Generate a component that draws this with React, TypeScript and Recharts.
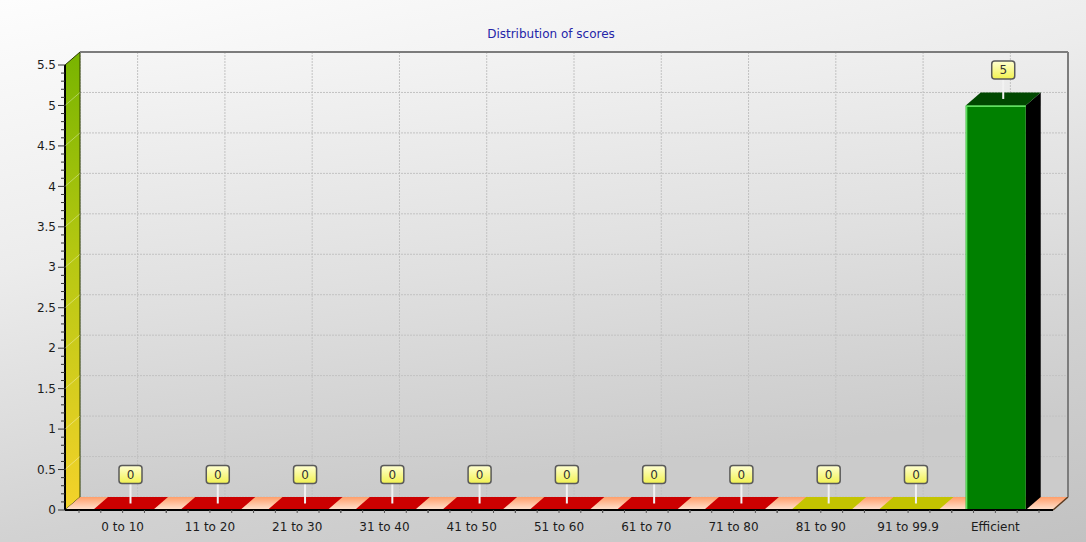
import React from "react";
import * as Recharts from "recharts";

const {BarChart, Bar, XAxis, YAxis, CartesianGrid, Cell, LabelList} = Recharts;
const anyRecharts = Recharts as any;

// chart values
const categories = [
  "0 to 10", "11 to 20", "21 to 30", "31 to 40", "41 to 50", "51 to 60",
  "61 to 70", "71 to 80", "81 to 90", "91 to 99.9", "Efficient",
];
const counts = [0, 0, 0, 0, 0, 0, 0, 0, 0, 0, 5];
const yTicks = [0, 0.5, 1, 1.5, 2, 2.5, 3, 3.5, 4, 4.5, 5, 5.5];

// styles
const barColors = [
  "#cc0000", "#cc0000", "#cc0000", "#cc0000", "#cc0000", "#cc0000",
  "#cc0000", "#cc0000", "#c4c400", "#c4c400", "#008000",
];
const topColors = [
  "#cc0000", "#cc0000", "#cc0000", "#cc0000", "#cc0000", "#cc0000",
  "#cc0000", "#cc0000", "#c4c400", "#c4c400", "#004800",
];

const data = categories.map((name, i) => ({name, count: counts[i]}));

// minor ticks: five steps inside every labelled interval
const yMinorTicks = yTicks.flatMap((t, i) =>
  i === 0 ? [t] : [1, 2, 3, 4, 5].map(k => Math.round((yTicks[i - 1] + ((t - yTicks[i - 1]) * k) / 5) * 100) / 100)
);

const W = 1086;
const H = 542;
const MARGIN = {top: 65, right: 33, bottom: 0, left: 0};
const Y_AXIS_W = 65;
const X_AXIS_H = 32;
const X_PAD = 14;
const DX = 15;
const DY = -13;
const PLOT_W = W - MARGIN.left - Y_AXIS_W - MARGIN.right;
const PLOT_H = H - MARGIN.top - X_AXIS_H - MARGIN.bottom;
const BAND = (PLOT_W - 2 * X_PAD) / categories.length;
const FONT = "'DejaVu Sans', Verdana, sans-serif";
const FS = 12;

function usePlot() {
  const pa = anyRecharts.usePlotArea ? anyRecharts.usePlotArea() : null;
  if (pa && pa.width) return pa;
  return {x: MARGIN.left + Y_AXIS_W, y: MARGIN.top, width: PLOT_W, height: PLOT_H};
}

// left wall, floor and the frame of the back wall (drawn in the back chart)
function Walls() {
  const {x, y, width: w, height: h} = usePlot();
  const b = y + h;
  return (
    <g>
      <polygon
        points={`${x},${y} ${x},${b} ${x - DX},${b - DY} ${x - DX},${y - DY}`}
        fill="url(#leftWallGrad)"
        stroke="#2c3c00"
        strokeWidth={1}
      />
      <polygon
        points={`${x},${b} ${x + w},${b} ${x + w - DX},${b - DY} ${x - DX},${b - DY}`}
        fill="url(#floorGrad)"
      />
      <line x1={x + w} y1={b} x2={x + w - DX} y2={b - DY} stroke="#5a3a20" strokeWidth={1.5}/>
      <line x1={x} y1={y} x2={x + w} y2={y} stroke="#7c7c7c" strokeWidth={2}/>
      <line x1={x + w} y1={y} x2={x + w} y2={b} stroke="#7c7c7c" strokeWidth={2}/>
    </g>
  );
}

function YTick(props: any) {
  const {x, y, payload} = props;
  const v = payload.value;
  const major = yTicks.includes(v);
  return (
    <g>
      <line x1={x - (major ? 7 : 4)} x2={x} y1={y} y2={y} stroke="#333" strokeWidth={1}/>
      {major && v > 0 && v < 5.5 && (
        <line x1={x} y1={y} x2={x + DX} y2={y + DY} stroke="#ffffff" strokeOpacity={0.35} strokeWidth={1}/>
      )}
      {major && (
        <text x={x - 9} y={y} dy="0.35em" textAnchor="end" fontSize={FS} fontFamily={FONT} fill="#1c1c1c">
          {v}
        </text>
      )}
    </g>
  );
}

function XTick(props: any) {
  const {x, y, payload} = props;
  return (
    <g>
      {[-2, -1, 0, 1, 2].map(k => (
        <line key={k} x1={x + (k * BAND) / 4} x2={x + (k * BAND) / 4} y1={y} y2={y + 3} stroke="#555" strokeWidth={1}/>
      ))}
      <text x={x} y={y + 21} textAnchor="middle" fontSize={FS} fontFamily={FONT} fill="#1c1c1c">
        {payload.value}
      </text>
    </g>
  );
}

function Box3D(props: any) {
  const {x, y, width, height, fill} = props;
  const idx = props.index ?? categories.indexOf(props.payload?.name);
  const top = topColors[idx] ?? fill;
  const topFace = `${x},${y} ${x + width},${y} ${x + width + DX},${y + DY} ${x + DX},${y + DY}`;
  if (!height) {
    return <polygon points={topFace} fill={fill}/>;
  }
  const side = `${x + width},${y} ${x + width + DX},${y + DY} ${x + width + DX},${y + height + DY} ${x + width},${y + height}`;
  return (
    <g>
      <polygon points={side} fill="#000"/>
      <polygon points={topFace} fill={top}/>
      <rect x={x} y={y} width={width} height={height} fill={fill}/>
      <line x1={x + 0.8} y1={y + height} x2={x + 0.8} y2={y + 0.8} stroke="#5fe05f" strokeWidth={1.6}/>
      <line x1={x} y1={y + 0.8} x2={x + width} y2={y + 0.8} stroke="#5fe05f" strokeWidth={1.6}/>
    </g>
  );
}

function ValueTag(props: any) {
  const vb = props.viewBox && props.viewBox.width !== undefined ? props.viewBox : props;
  const {x, y, width} = vb;
  const cx = x + width / 2 + DX / 2;
  const cy = y + DY / 2;
  const boxBottom = cy - 20;
  return (
    <g>
      <line x1={cx} x2={cx} y1={cy} y2={boxBottom} stroke="#f2f2f2" strokeWidth={2}/>
      <rect x={cx - 11.5} y={boxBottom - 18} width={23} height={18} rx={3} fill="url(#tagGrad)" stroke="#5a5a5a" strokeWidth={1.5}/>
      <text x={cx} y={boxBottom - 9} dy="0.35em" textAnchor="middle" fontSize={FS} fontFamily={FONT} fill="#333">
        {props.value}
      </text>
    </g>
  );
}

export default function App() {
  return (
    <div
      style={{
        position: "relative",
        width: W,
        height: H,
        overflow: "hidden",
        background: "linear-gradient(168deg, #fdfdfd 0%, #ececec 35%, #d2d2d2 70%, #c2c2c2 100%)",
      }}
    >
      <style>{"body{margin:0}"}</style>
      <div
        style={{
          position: "absolute",
          top: 27,
          left: 401,
          width: 300,
          textAlign: "center",
          fontFamily: FONT,
          fontSize: FS,
          color: "#2525a8",
        }}
      >
        Distribution of scores
      </div>

      {/* back plane: wall, grid, left wall and floor */}
      <div style={{position: "absolute", left: DX, top: DY}}>
        <BarChart
          width={W}
          height={H}
          data={data}
          margin={{top: MARGIN.top, right: MARGIN.right, bottom: MARGIN.bottom + X_AXIS_H, left: MARGIN.left + Y_AXIS_W}}
        >
          <defs>
            <linearGradient id="backWallGrad" x1="0" y1="0" x2="0.25" y2="1">
              <stop offset="0%" stopColor="#f6f6f6"/>
              <stop offset="55%" stopColor="#e0e0e0"/>
              <stop offset="100%" stopColor="#cbcbcb"/>
            </linearGradient>
            <linearGradient id="leftWallGrad" x1="0" y1="0" x2="0" y2="1">
              <stop offset="0%" stopColor="#78b400"/>
              <stop offset="45%" stopColor="#b6c812"/>
              <stop offset="100%" stopColor="#f4d22a"/>
            </linearGradient>
            <linearGradient id="floorGrad" x1="0" y1="0" x2="0" y2="1">
              <stop offset="0%" stopColor="#ff9e6a"/>
              <stop offset="100%" stopColor="#ffe4d2"/>
            </linearGradient>
          </defs>
          <CartesianGrid
            fill="url(#backWallGrad)"
            stroke="#c2c2c2"
            strokeDasharray="2 1"
          />
          <XAxis dataKey="name" hide padding={{left: X_PAD, right: X_PAD}} interval={0}/>
          <YAxis hide domain={[0, 5.5]} ticks={yTicks} interval={0}/>
          <Bar dataKey="count" fill="none" fillOpacity={0} isAnimationActive={false}/>
          <Walls/>
        </BarChart>
      </div>

      {/* front plane: axes, bars, value tags */}
      <div style={{position: "absolute", left: 0, top: 0}}>
        <BarChart width={W} height={H} data={data} margin={MARGIN} barSize={60}>
          <defs>
            <linearGradient id="tagGrad" x1="0" y1="0" x2="0" y2="1">
              <stop offset="0%" stopColor="#ffffd2"/>
              <stop offset="100%" stopColor="#f2f250"/>
            </linearGradient>
          </defs>
          <XAxis
            dataKey="name"
            height={X_AXIS_H}
            padding={{left: X_PAD, right: X_PAD}}
            interval={0}
            tickLine={false}
            tickSize={0}
            tickMargin={0}
            tick={(p: any) => <XTick {...p}/>}
            axisLine={{stroke: "#000", strokeWidth: 2}}
          />
          <YAxis
            width={Y_AXIS_W}
            domain={[0, 5.5]}
            ticks={yMinorTicks}
            interval={0}
            tickLine={false}
            tickSize={0}
            tickMargin={0}
            tick={(p: any) => <YTick {...p}/>}
            axisLine={{stroke: "#000", strokeWidth: 2}}
          />
          <Bar dataKey="count" shape={(p: any) => <Box3D {...p}/>} isAnimationActive={false}>
            {data.map((d, i) => (
              <Cell key={d.name} fill={barColors[i]}/>
            ))}
            <LabelList dataKey="count" content={(p: any) => <ValueTag {...p}/>}/>
          </Bar>
        </BarChart>
      </div>
    </div>
  );
}
